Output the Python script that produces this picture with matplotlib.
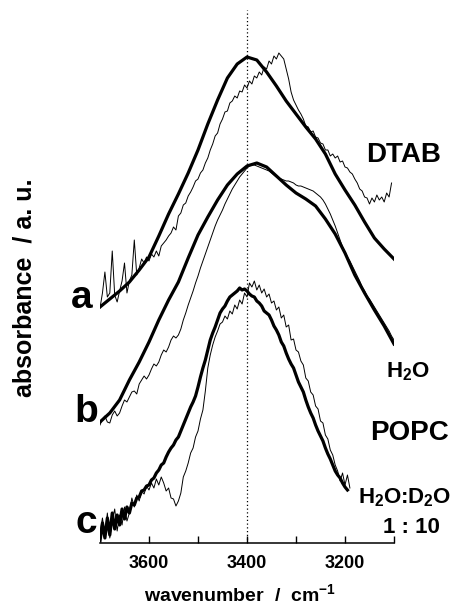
import numpy as np
import matplotlib
matplotlib.use("Agg")
import matplotlib.pyplot as plt

plt.rcParams["font.family"] = ["Liberation Sans", "DejaVu Sans"]
plt.rcParams["font.weight"] = "bold"
plt.rcParams["mathtext.fontset"] = "custom"
plt.rcParams["mathtext.rm"] = "Liberation Sans:bold"
plt.rcParams["mathtext.it"] = "Liberation Sans:bold"
plt.rcParams["mathtext.bf"] = "Liberation Sans:bold"

# absorbance in arbitrary units (curves are offset as in the figure)
# thick curves sampled every 20 cm-1, thin (noisy) ones every 5 cm-1
a_thick = [236, 244, 252, 261, 273, 286, 307, 329, 349, 370, 393, 419, 443, 465, 479, 486,
           483, 471, 457, 442, 429, 416, 404, 389, 369, 353, 338, 321, 305, 294, 284]

a_thin = [235, 250, 271, 246, 250, 292, 248, 241, 252, 262, 280, 250, 262, 268, 303, 268,
          275, 284, 280, 286, 282, 289, 286, 292, 287, 297, 300, 303, 307, 310, 316, 313,
          327, 330, 338, 340, 347, 351, 356, 362, 364, 370, 373, 380, 385, 393, 399, 407,
          410, 419, 424, 431, 432, 440, 442, 447, 445, 452, 451, 458, 455, 462, 459, 467,
          465, 471, 468, 476, 474, 482, 479, 487, 484, 490, 487, 484, 474, 464, 451, 443,
          438, 433, 429, 424, 417, 416, 411, 412, 406, 405, 400, 399, 393, 393, 387, 389,
          385, 387, 381, 382, 376, 375, 371, 369, 364, 360, 354, 352, 346, 345, 339, 345,
          341, 348, 343, 346, 341, 350, 346, 360]

b_thick = [121, 130, 143, 163, 181, 201, 223, 243, 261, 285, 308, 326, 343, 358, 369, 377,
           380, 376, 367, 358, 350, 344, 337, 324, 309, 290, 268, 250, 233, 217, 199]

b_thin = [118, 124, 127, 121, 120, 128, 132, 127, 130, 137, 143, 141, 146, 151, 152, 149,
          159, 163, 167, 164, 168, 174, 179, 177, 181, 188, 193, 191, 196, 203, 207, 205,
          208, 214, 223, 230, 238, 245, 252, 260, 267, 275, 282, 289, 296, 303, 310, 317,
          323, 328, 333, 339, 344, 349, 354, 358, 362, 366, 369, 372, 375, 377, 378, 378,
          377, 376, 375, 374, 373, 372, 370, 368, 366, 365, 364, 363, 362, 362, 361, 360,
          358, 357, 357, 356, 355, 354, 353, 352, 350, 348, 346, 343, 339, 334, 329, 323,
          317, 310, 303, 296, 291, 286, 282, 277, 272, 267, 262, 256, 252, 247, 244, 240,
          236, 232, 228, 224, 220, 216, 212, 207, 203, 198]

c_thick = [2, 20, 5, 25, 8, 30, 14, 28, 18, 34, 24, 36, 30, 40, 38, 45,
           46, 52, 53, 57, 58, 63, 65, 70, 73, 78, 80, 86, 91, 95, 98, 103,
           106, 112, 118, 124, 130, 136, 141, 147, 156, 166, 175, 183, 193, 203, 210, 216,
           223, 230, 234, 237, 242, 246, 248, 250, 252, 255, 253, 254, 252, 249, 247, 246,
           242, 240, 237, 232, 230, 228, 223, 217, 213, 208, 201, 197, 190, 184, 179, 175,
           168, 161, 156, 151, 143, 136, 130, 125, 118, 112, 107, 102, 95, 89, 84, 78,
           72, 68, 65, 60, 56, 53]

c_thin = [10, 25, 8, 30, 5, 22, 34, 12, 28, 18, 36, 22, 30, 45, 36, 48,
          42, 52, 49, 57, 53, 60, 55, 64, 58, 66, 60, 52, 55, 45, 44, 37,
          42, 50, 66, 72, 80, 90, 95, 106, 112, 124, 133, 152, 175, 188, 198, 206,
          212, 219, 221, 227, 224, 232, 229, 238, 234, 243, 239, 250, 246, 260, 256, 262,
          253, 258, 250, 254, 246, 249, 240, 242, 233, 236, 225, 228, 216, 218, 203, 204,
          193, 191, 182, 178, 165, 162, 151, 148, 137, 134, 122, 120, 108, 104, 93, 88,
          78, 72, 62, 70, 58, 68, 55]

wn_a_thick = 3700 - 20 * np.arange(len(a_thick))
wn_b_thick = 3700 - 20 * np.arange(len(b_thick))
wn_c_thick = 3700 - 5 * np.arange(len(c_thick))
wn_a_thin = 3700 - 5 * np.arange(len(a_thin))
wn_b_thin = 3700 - 5 * np.arange(len(b_thin))
wn_c_thin = 3700 - 5 * np.arange(len(c_thin))

fig = plt.figure(figsize=(4.57, 6.07), dpi=100)
ax = fig.add_axes([100 / 457, 64 / 607, 294 / 457, 543 / 607])

ax.plot(wn_a_thin, a_thin, color="black", lw=0.7)
ax.plot(wn_a_thick, a_thick, color="black", lw=2.3)
ax.plot(wn_b_thin, b_thin, color="black", lw=0.7)
ax.plot(wn_b_thick, b_thick, color="black", lw=2.3)
ax.plot(wn_c_thin, c_thin, color="black", lw=0.7)
ax.plot(wn_c_thick, c_thick, color="black", lw=2.3)

ax.vlines(3400, 0, 533, colors="black", linestyles=(0, (1, 2)), lw=0.9)

ax.set_xlim(3700, 3100)
ax.set_ylim(0, 543)
for side in ["left", "right", "top"]:
    ax.spines[side].set_visible(False)
ax.spines["bottom"].set_linewidth(1.1)
ax.set_yticks([])
ax.set_xticks([3600, 3500, 3400, 3300, 3200, 3100])
ax.set_xticklabels(["3600", "", "3400", "", "3200", ""])
ax.tick_params(axis="x", direction="in", length=5, width=1.0, pad=9, labelsize=13)


def put(px, py, s, size, **kw):
    fig.text(px / 457, 1 - py / 607, s, fontsize=size, fontweight="bold",
             ha="center", va="baseline", **kw)


put(82, 308, "a", 28)
put(86, 422, "b", 28)
put(86, 533, "c", 28)
put(404, 162, "DTAB", 20)
put(408, 377, "H$_2$O", 16)
put(409, 440, "POPC", 20)
put(405, 503, "H$_2$O:D$_2$O", 16)
put(411, 533, "1 : 10", 16)
put(240, 601, "wavenumber  /  cm$^{-1}$", 14)
fig.text(25 / 457, 1 - 288 / 607, "absorbance  / a. u.", fontsize=18, fontweight="bold",
         rotation=90, ha="center", va="center")

fig.savefig("out.png", dpi=100)
